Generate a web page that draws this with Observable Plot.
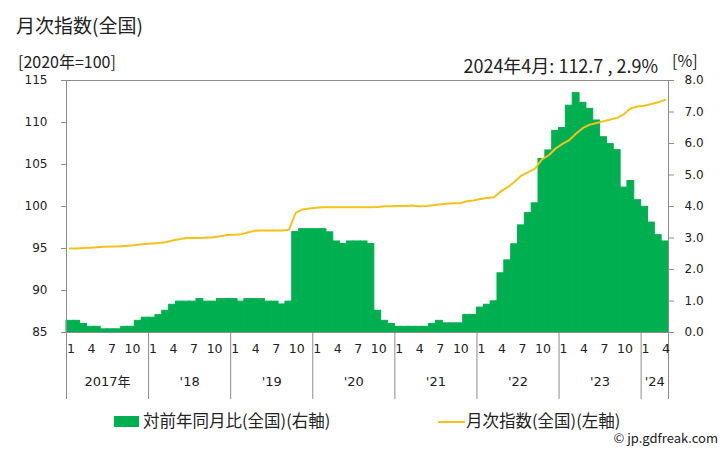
<!DOCTYPE html>
<html>
<head>
<meta charset="utf-8">
<script src="https://cdn.jsdelivr.net/npm/d3@7"></script>
<script src="https://cdn.jsdelivr.net/npm/@observablehq/plot@0.6"></script>
<style>
  html, body { margin: 0; padding: 0; background: #fff; }
  body { width: 728px; height: 450px; overflow: hidden; font-family: "Noto Sans CJK JP", "Noto Sans", sans-serif; color: #222; }
  .abs { position: absolute; white-space: nowrap; line-height: 1; }
  #head { position: relative; height: 72px; }
  #foot { position: relative; height: 45px; }
  #chart svg { display: block; }
</style>
</head>
<body>
<div id="head">
  <div class="abs" style="left:16px;top:15px;font-size:19px;">月次指数(全国)</div>
  <div class="abs" style="left:18px;top:53px;font-size:16px;">[2020年=100]</div>
  <div class="abs" id="latest" style="right:70px;top:56px;font-size:18px;"></div>
  <div class="abs" style="left:672px;top:52px;font-size:16px;">[%]</div>
</div>
<div id="chart"></div>
<div id="foot">
  <div class="abs" style="left:114px;top:11px;width:25px;height:11px;background:#00b050;"></div>
  <div class="abs" style="left:143px;top:7px;font-size:16.5px;">対前年同月比(全国)(右軸)</div>
  <div class="abs" style="left:438px;top:16px;width:27px;height:2px;background:#f5c21b;"></div>
  <div class="abs" style="left:466px;top:7px;font-size:16.5px;">月次指数(全国)(左軸)</div>
  <div class="abs" style="right:10px;top:26px;font-size:13px;">© jp.gdfreak.com</div>
</div>
<script>
// ---- data ----
const years = [2017, 2018, 2019, 2020, 2021, 2022, 2023, 2024];
const yearLabels = ["2017年", "'18", "'19", "'20", "'21", "'22", "'23", "'24"];
const monthsPerYear = [12, 12, 12, 12, 12, 12, 12, 4];
const monthTickLabels = [1, 4, 7, 10];

// 対前年同月比 (%), Jan 2017 .. Apr 2024
const yoy = [
  0.37,0.37,0.27,0.18,0.18,0.10,0.10,0.10,0.18,0.18,0.37,0.47,
  0.47,0.55,0.69,0.88,0.98,0.98,0.98,1.06,0.98,0.98,1.06,1.06,
  1.06,0.98,1.06,1.06,1.06,0.98,0.98,0.89,0.98,3.19,3.28,3.28,
  3.28,3.28,3.18,2.89,2.81,2.89,2.89,2.89,2.81,0.69,0.37,0.27,
  0.18,0.18,0.18,0.18,0.18,0.27,0.37,0.29,0.29,0.29,0.56,0.56,
  0.79,0.88,0.99,1.88,2.29,2.80,3.40,3.79,4.10,5.51,5.78,6.40,
  6.49,7.20,7.60,7.29,7.10,6.73,6.20,5.98,5.79,4.60,4.81,4.20,
  3.99,3.49,3.09,2.89
];
// 月次指数 (2020=100)
const index = [
  95.00,95.00,95.05,95.10,95.15,95.20,95.25,95.25,95.30,95.35,95.45,95.55,
  95.60,95.65,95.75,95.95,96.10,96.25,96.25,96.25,96.30,96.35,96.45,96.60,
  96.65,96.70,96.90,97.10,97.15,97.15,97.15,97.15,97.22,99.25,99.65,99.75,
  99.85,99.92,99.92,99.92,99.92,99.92,99.92,99.92,99.92,99.95,100.02,100.02,
  100.05,100.07,100.12,100.03,100.05,100.15,100.25,100.32,100.38,100.38,100.62,100.72,
  100.90,101.00,101.10,101.80,102.30,102.95,103.68,104.10,104.50,105.60,106.10,106.90,
  107.45,107.90,108.70,109.35,109.75,109.95,110.15,110.35,110.55,111.00,111.70,111.90,
  112.00,112.20,112.40,112.70
];
const leftTicks = [85, 90, 95, 100, 105, 110, 115];
const rightTicks = [0, 1, 2, 3, 4, 5, 6, 7, 8];
const leftDomain = [85, 115];
const rightDomain = [0, 8];

// ---- build ----
const toRight = v => (v - leftDomain[0]) / (leftDomain[1] - leftDomain[0]) * (rightDomain[1] - rightDomain[0]) + rightDomain[0];

const rows = [];
years.forEach((y, yi) => {
  for (let m = 1; m <= monthsPerYear[yi]; m++) {
    const i = rows.length;
    rows.push({i, year: y, month: m, yoy: yoy[i], idx: index[i]});
  }
});
const n = rows.length;
const yearStarts = [];
let acc = 0;
monthsPerYear.forEach(c => { yearStarts.push(acc); acc += c; });
const yearBounds = [...yearStarts, n];
const yearRows = years.map((y, k) => ({x: yearStarts[k] + monthsPerYear[k] / 2, label: yearLabels[k]}));
const monthRows = rows.filter(r => monthTickLabels.includes(r.month));

const last = rows[n - 1];
document.getElementById("latest").textContent =
  `${last.year}年${last.month}月: ${last.idx.toFixed(1)} , ${last.yoy.toFixed(1)}%`;

const gray = "#8c8c8c";
const leftPos = leftTicks.map(toRight);
const chart = Plot.plot({
  width: 728,
  height: 333,
  marginTop: 8,
  marginBottom: 73,
  marginLeft: 66,
  marginRight: 60,
  style: {fontFamily: "'DejaVu Sans', 'Noto Sans CJK JP', sans-serif", fontSize: "12px", color: "#222", background: "#fff"},
  x: {domain: [0, n], axis: null},
  y: {domain: rightDomain, axis: null},
  marks: [
    Plot.rectY(rows, {x1: d => d.i, x2: d => d.i + 1, y: "yoy", fill: "#00b050", stroke: "#00b050", strokeWidth: 1, inset: 0}),
    Plot.line(rows, {x: d => d.i + 0.5, y: d => toRight(d.idx), stroke: "#f5c21b", strokeWidth: 2}),
    Plot.ruleY([rightDomain[0], rightDomain[1]], {stroke: gray}),
    Plot.ruleX([0, n], {stroke: gray}),
    Plot.axisY(leftPos, {
      anchor: "left", label: null, tickSize: 5, tickPadding: 14, stroke: gray,
      tickFormat: d => String(leftTicks[leftPos.findIndex(v => Math.abs(v - d) < 1e-9)])
    }),
    Plot.axisY(rightTicks, {anchor: "right", label: null, tickSize: 5, tickPadding: 11, stroke: gray, tickFormat: d => d.toFixed(1)}),
    Plot.axisX(yearBounds, {anchor: "bottom", label: null, tickSize: 67, stroke: gray, tickFormat: () => ""}),
    Plot.text(monthRows, {x: d => d.i + 0.5, text: d => String(d.month), frameAnchor: "bottom", dy: 20, dx: 1, fill: "#222", fontSize: 12.5}),
    Plot.text(yearRows, {x: "x", text: "label", frameAnchor: "bottom", dy: 53, fill: "#222", fontSize: 13})
  ]
});
document.getElementById("chart").appendChild(chart);
</script>
</body>
</html>
